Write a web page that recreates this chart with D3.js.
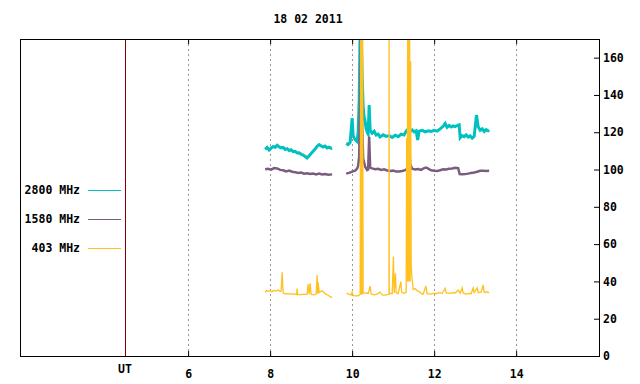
<!DOCTYPE html>
<html>
<head>
<meta charset="utf-8">
<script src="https://cdn.jsdelivr.net/npm/d3@7"></script>
<style>
  body { margin: 0; background: #fff; }
  text { font-family: "DejaVu Sans Mono", monospace; font-weight: bold; font-size: 11.5px; fill: #000; }
</style>
</head>
<body>
<script>
// radio flux, 18 02 2011 - time in hours UT, flux in sfu
var title = "18 02 2011";
var xTicks = [6, 8, 10, 12, 14];
var yTicks = [0, 20, 40, 60, 80, 100, 120, 140, 160];
var utMark = 4.46;
var seriesNames = ["2800 MHz", "1580 MHz", "403 MHz"];
var seriesColors = ["#00c0c0", "#7a5c7e", "#ffc020"];

var t2800 = [7.878, 7.927, 7.976, 8.024, 8.073, 8.122, 8.171, 8.220, 8.268, 8.317, 8.366, 8.415, 8.463, 8.512, 8.561,
  8.610, 8.659, 8.707, 8.756, 8.805, 8.854, 8.902, 8.951, 9.000, 9.049, 9.098, 9.146, 9.195, 9.244, 9.293, 9.341,
  9.390, 9.439, 9.488, 9.512, 9.68,
  9.854, 9.902, 9.951, 10.000, 10.024, 10.073, 10.122, 10.146, 10.171, 10.195, 10.220, 10.244, 10.268, 10.293, 10.317,
  10.341, 10.366, 10.390, 10.415, 10.439, 10.488, 10.537, 10.585, 10.634, 10.683, 10.756, 10.829, 10.902, 10.976,
  11.049, 11.122, 11.195, 11.268, 11.317, 11.366, 11.415, 11.463, 11.512, 11.561, 11.598, 11.634, 11.707, 11.780,
  11.854, 11.927, 12.000, 12.073, 12.146, 12.220, 12.268, 12.317, 12.366, 12.415, 12.463, 12.512, 12.561, 12.610,
  12.634, 12.683, 12.732, 12.780, 12.829, 12.878, 12.927, 12.976, 13.032, 13.073, 13.122, 13.171, 13.220, 13.268,
  13.317, 13.341];
var v2800 = [110.8, 111.8, 110.5, 111.5, 112.4, 111.9, 113.0, 112.1, 111.6, 111.9, 110.8, 111.2, 110.2, 110.6, 109.6,
  109.8, 108.9, 109.0, 108.2, 107.8, 107.0, 106.2, 107.4, 108.6, 109.8, 111.0, 112.5, 113.4, 112.6, 112.0, 112.6,
  111.6, 112.0, 111.4, 111.6, null,
  114.0, 113.4, 114.6, 127.6, 118.0, 116.0, 115.0, 120.0, 137.0, 175, 175, 150, 134, 128, 125.7,
  122, 120, 119, 134.6, 121, 119.5, 120.5, 118.5, 119, 117.5, 118.6, 117.8, 118.2, 117.2,
  118.4, 117.6, 119.0, 118.5, 120.6, 121.6, 120.4, 121.2, 120.2, 120.8, 115.8, 120.6, 121.0, 120.2,
  120.8, 120.4, 121.0, 120.6, 121.8, 123.2, 124.7, 122.6, 123.6, 122.8, 123.4, 123.0, 123.6, 124.0,
  117.0, 118.2, 117.6, 118.6, 117.4, 118.0, 116.8, 117.8, 129.2, 123.0, 121.0, 121.8, 120.4, 121.4,
  120.8, 121.2];

var t1580 = [7.878, 7.951, 8.024, 8.098, 8.171, 8.244, 8.317, 8.390, 8.463, 8.537, 8.610, 8.683, 8.756, 8.829, 8.902,
  8.976, 9.049, 9.122, 9.195, 9.268, 9.341, 9.415, 9.512, 9.68,
  9.854, 9.927, 10.000, 10.073, 10.122, 10.146, 10.171, 10.195, 10.220, 10.244, 10.268, 10.317, 10.366, 10.390,
  10.415, 10.439, 10.488, 10.561, 10.634, 10.707, 10.780, 10.854, 10.927, 11.000, 11.073, 11.146, 11.220, 11.293,
  11.341, 11.398, 11.415, 11.463, 11.537, 11.610, 11.683, 11.756, 11.805, 11.854, 11.927, 12.000, 12.073, 12.146,
  12.220, 12.293, 12.366, 12.439, 12.512, 12.585, 12.622, 12.683, 12.756, 12.829, 12.902, 12.976, 13.049, 13.122,
  13.195, 13.268, 13.341];
var v1580 = [100.1, 100.4, 99.9, 100.8, 100.6, 99.8, 99.6, 99.0, 99.4, 98.8, 98.6, 98.2, 98.4, 97.8, 98.0,
  97.6, 97.9, 97.4, 97.8, 97.3, 97.6, 97.2, 97.4, null,
  97.8, 98.2, 98.9, 99.4, 100.5, 102, 106.9, 135, 175, 125, 106, 101.5, 99.7, 100,
  117.6, 101, 100.6, 100.2, 100.4, 99.8, 100.1, 99.5, 99.2, 99.4, 98.9, 99.0, 99.2, 99.7,
  100.4, 111.3, 103, 100.4, 100.0, 100.3, 99.8, 100.8, 101.1, 100.5, 99.6, 99.3, 99.2, 99.6,
  100.1, 100.0, 100.4, 100.6, 101.0, 100.8, 97.6, 97.5, 97.6, 97.8, 98.2, 98.4, 98.8, 99.3,
  99.4, 99.2, 99.3];

var t403 = [7.878, 7.902, 7.951, 8.000, 8.049, 8.098, 8.146, 8.195, 8.244, 8.268, 8.293, 8.317, 8.366, 8.439, 8.512,
  8.585, 8.647, 8.659, 8.671, 8.732, 8.805, 8.902, 8.927, 8.951, 8.976, 9.000, 9.073, 9.122, 9.146, 9.159, 9.171,
  9.195, 9.220, 9.268, 9.317, 9.366, 9.415, 9.463, 9.512, 9.68,
  9.866, 9.927, 9.976, 10.000, 10.024, 10.098, 10.146, 10.195, 10.207, 10.220, 10.232, 10.244, 10.256, 10.268,
  10.341, 10.390, 10.439, 10.463, 10.537, 10.610, 10.683, 10.732, 10.805, 10.878, 10.899, 10.902, 10.905, 10.927, 10.976, 11.007,
  11.024, 11.056, 11.073, 11.122, 11.188, 11.207, 11.268, 11.317, 11.329, 11.341, 11.354, 11.366, 11.378, 11.390,
  11.402, 11.415, 11.427, 11.439, 11.456, 11.488, 11.537, 11.585, 11.634, 11.683, 11.732, 11.798, 11.829, 11.902,
  11.976, 12.049, 12.122, 12.195, 12.268, 12.293, 12.366, 12.439, 12.512, 12.585, 12.634, 12.683, 12.707, 12.780,
  12.854, 12.902, 12.951, 12.976, 13.049, 13.073, 13.146, 13.195, 13.220, 13.293, 13.341];
var v403 = [34.0, 35.2, 34.6, 35.0, 34.5, 35.2, 34.8, 35.4, 34.6, 34.8, 44.9, 34.0, 33.2, 33.4, 33.2,
  33.3, 33.0, 36.2, 33.0, 32.9, 33.0, 33.1, 38.6, 33.2, 39.0, 33.0, 32.8, 33.2, 43.4, 33.4, 39.5,
  34.0, 34.4, 35.0, 34.0, 33.0, 32.6, 31.8, 31.3, null,
  33.6, 33.0, 32.7, 34.3, 32.4, 32.2, 32.3, 33.0, 175, 33, 175, 33, 175, 33.6,
  33.8, 33.4, 37.5, 33.2, 32.8, 33.2, 34.3, 32.8, 32.6, 33.0, 33.2, 175, 33.4, 33.6, 33.4, 53.3,
  33.8, 44.3, 34.0, 33.4, 39.9, 34.2, 33.6, 34.0, 117, 40, 175, 40, 175, 40,
  175, 40, 158, 50, 42.5, 35.7, 36.2, 35.0, 34.5, 33.6, 33.2, 37.5, 33.4, 33.2,
  33.6, 33.4, 34.0, 33.6, 36.2, 33.8, 33.6, 34.0, 33.8, 35.4, 33.6, 36.5, 33.8, 33.2,
  33.6, 33.4, 36.5, 34.0, 36.5, 34.0, 34.2, 38.1, 34.2, 34.4, 34.0];

var width = 640, height = 384;
var plotL = 20, plotR = 599, plotT = 39, plotB = 356;

var svg = d3.select("body").append("svg")
  .attr("width", width)
  .attr("height", height);

var x = d3.scaleLinear().domain([1.9, 16.02]).range([plotL, plotR]);
var y = d3.scaleLinear().domain([0, 170]).range([plotB, plotT]);

svg.append("clipPath").attr("id", "plot")
  .append("rect").attr("x", plotL).attr("y", plotT).attr("width", plotR - plotL).attr("height", plotB - plotT);

// dotted grid
svg.append("g").selectAll("line")
  .data(xTicks)
  .enter().append("line")
  .attr("x1", d => Math.round(x(d)) + 0.5).attr("x2", d => Math.round(x(d)) + 0.5)
  .attr("y1", plotT).attr("y2", plotB)
  .style("stroke", "#999")
  .style("stroke-dasharray", "2,3");

// UT marker
svg.append("line")
  .attr("x1", Math.round(x(utMark)) + 0.5).attr("x2", Math.round(x(utMark)) + 0.5)
  .attr("y1", plotT).attr("y2", plotB)
  .style("stroke", "#800000");

// series
var line = d3.line()
  .defined(d => d[1] !== null)
  .x(d => x(d[0]))
  .y(d => y(d[1]));

var series = [[t2800, v2800, 3], [t1580, v1580, 2.5], [t403, v403, 1.3]];
var plot = svg.append("g").attr("clip-path", "url(#plot)");
series.forEach(function (s, i) {
  plot.append("path")
    .datum(s[0].map((t, j) => [t, s[1][j]]))
    .attr("d", line)
    .style("fill", "none")
    .style("stroke", seriesColors[i])
    .style("stroke-width", s[2])
    .style("stroke-linejoin", "miter");
});

// axes
var xAxis = svg.append("g")
  .attr("transform", "translate(0," + plotB + ")")
  .call(d3.axisBottom(x).tickValues(xTicks).tickSize(-5).tickPadding(14));
var xTop = svg.append("g")
  .attr("transform", "translate(0," + plotT + ")")
  .call(d3.axisTop(x).tickValues(xTicks).tickSize(-5).tickFormat(""));
var yAxis = svg.append("g")
  .attr("transform", "translate(" + plotR + ",0)")
  .call(d3.axisRight(y).tickValues(yTicks).tickSize(-5).tickPadding(4));

[xAxis, xTop, yAxis].forEach(function (a) {
  a.select(".domain").remove();
  a.attr("font-family", null).attr("font-size", null);
  a.selectAll("line").style("stroke", "#000");
});

// frame
svg.append("rect")
  .attr("x", plotL + 0.5).attr("y", plotT + 0.5)
  .attr("width", plotR - plotL).attr("height", plotB - plotT)
  .style("fill", "none")
  .style("stroke", "#000");

svg.append("text")
  .attr("x", x(utMark)).attr("y", 373)
  .attr("text-anchor", "middle")
  .text("UT");

svg.append("text")
  .attr("x", 308).attr("y", 23)
  .attr("text-anchor", "middle")
  .text(title);

// legend
var legend = svg.append("g").selectAll("g")
  .data(seriesNames)
  .enter().append("g")
  .attr("transform", (d, i) => "translate(0," + (190 + i * 29) + ")");
legend.append("text")
  .attr("x", 80).attr("y", 4)
  .attr("text-anchor", "end")
  .text(d => d);
legend.append("line")
  .attr("x1", 88).attr("x2", 121)
  .attr("y1", 0.5).attr("y2", 0.5)
  .style("stroke", (d, i) => seriesColors[i]);
</script>
</body>
</html>
